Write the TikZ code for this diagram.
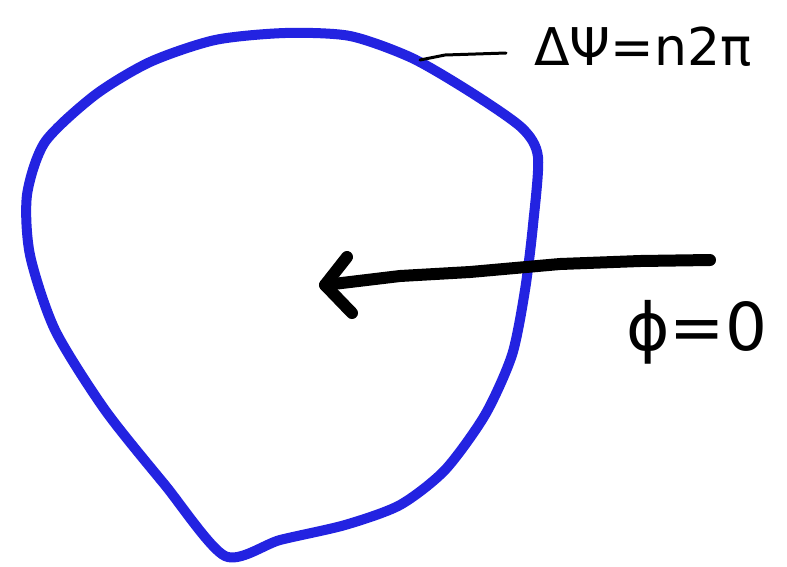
\documentclass[tikz,border=0pt]{standalone}
\usepackage{fontspec}
\setmainfont{DejaVu Sans}
\begin{document}
\begin{tikzpicture}[x=1pt,y=-1pt,
  blob/.style={draw={rgb,255:red,35;green,35;blue,225},line width=10pt,line join=round},
  bigarrow/.style={draw=black,line width=12pt,line cap=round,line join=round},
  leader/.style={draw=black,line width=3pt,line cap=round},
  lbl/.style={inner sep=0pt,text=black}]
\useasboundingbox (0,0) rectangle (787,566);
\fill[white] (0,0) rectangle (787,566);
% blob
\draw[blob] plot[smooth cycle,tension=0.45] coordinates {(225,556) (165,485) (105,410) (55,330) (30,255) (27,195) (45,142)
  (95,95) (150,62) (215,40) (285,33) (350,36) (412,58) (472,93)
  (522,128) (538,157) (533,225) (525,290) (512,355) (485,415)
  (445,470) (400,505) (345,525) (280,540)};
% arrow
\coordinate (astart) at (710,260);
\coordinate (tip) at (325,285);
\draw[bigarrow] (astart) -- (640,261) -- (560,264) -- (470,272) -- (400,276) -- (tip);
\draw[bigarrow] (347,257) -- (tip) -- (352,313);
% labels
\node[lbl,anchor=west] (dpsi) at (534,47) {\fontsize{52}{56}\selectfont ΔΨ=n2π};
\coordinate (lt) at (420,60);
\draw[leader] (lt) -- (445,55) -- ([xshift=-28pt,yshift=-6pt]dpsi.west);
\node[lbl,anchor=west] (phi) at (626,332) {\fontsize{66}{70}\selectfont ϕ=0};
\end{tikzpicture}
\end{document}
